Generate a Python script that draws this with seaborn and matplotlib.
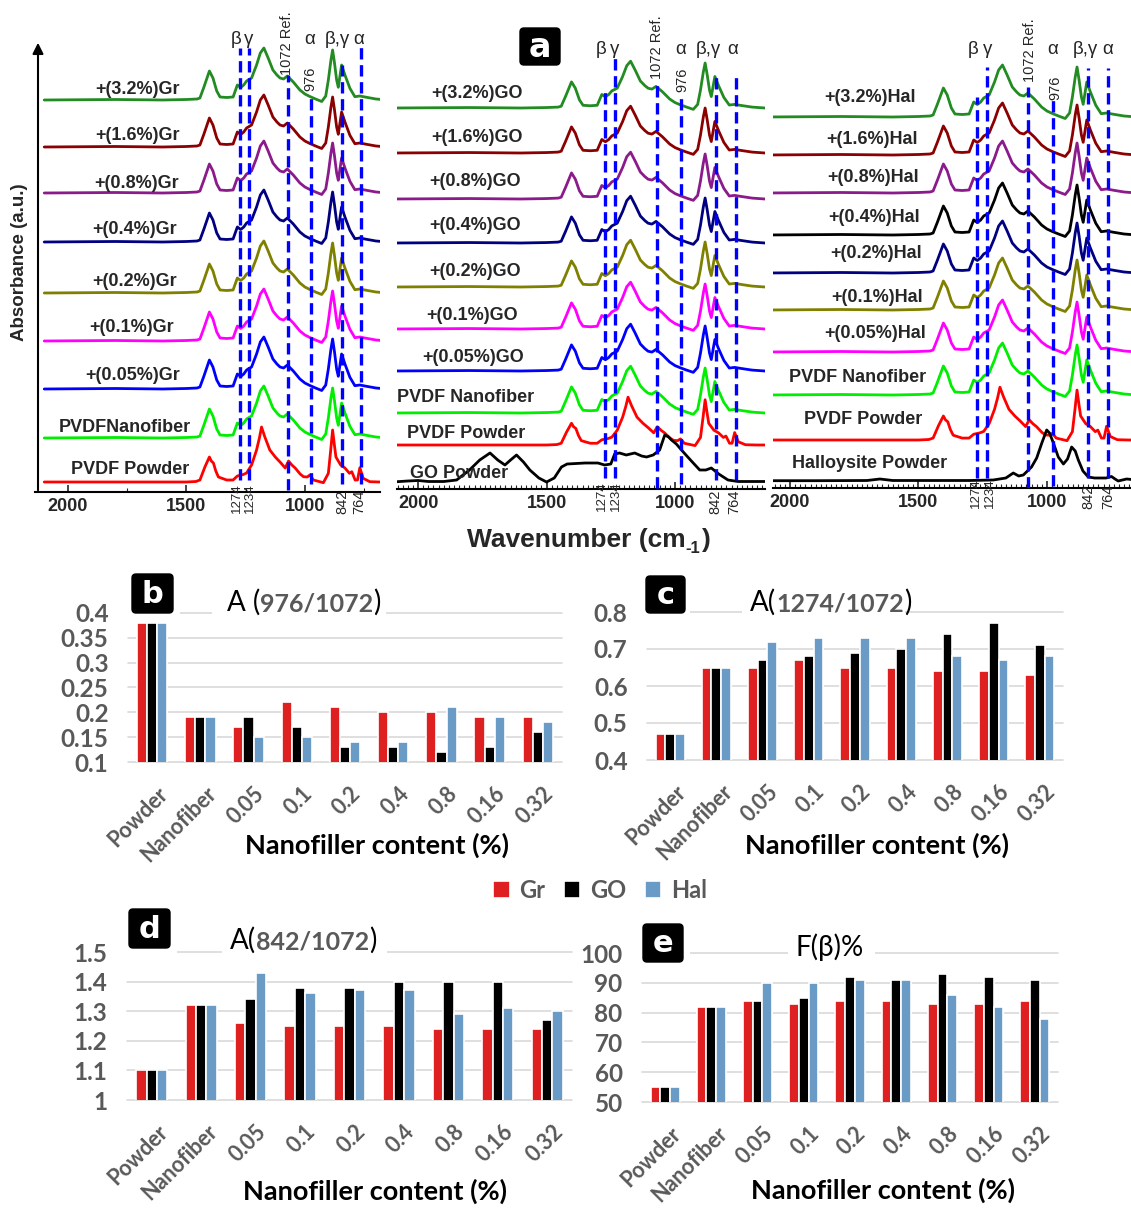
import numpy as np
import pandas as pd
import matplotlib
matplotlib.use("Agg")
import matplotlib.pyplot as plt
import seaborn as sns
from matplotlib.patches import Rectangle, FancyBboxPatch
from matplotlib.ticker import MultipleLocator, FixedLocator, FuncFormatter
from matplotlib.transforms import ScaledTranslation

# ===================== DATA: FTIR spectra (panel a) =====================
# PVDF nanofiber / composite profile (wavenumber cm-1, absorbance a.u.)
FIBER_WN = [2100, 1800, 1600, 1500, 1455, 1443, 1426, 1403, 1388, 1372, 1358, 1330, 1303,
            1285, 1271, 1258, 1246, 1225, 1204, 1188, 1173, 1155, 1135, 1118, 1105, 1090,
            1074, 1049, 1021, 1000, 979, 955, 929, 912, 901, 890, 883, 875, 866, 859, 852,
            845, 831, 810, 789, 768, 740, 700, 650]
FIBER_ABS = [0, 0.5, 0, 0.5, 1, 2, 13, 29, 22, 9, 3, 2.5, 3,
             15, 12.5, 15, 19, 22, 35, 47, 52, 42, 30, 25, 22, 21,
             24, 18, 10, 6, 3.5, 1, -1.5, 4, 20, 40, 50, 37, 20, 12.7, 24,
             35, 25, 11.7, 3.3, 4, 2.7, 1, 0]
# PVDF powder profile
POWDER_WN = [2100, 1500, 1460, 1443, 1422, 1403, 1395, 1386, 1376, 1365, 1330, 1303, 1285,
             1260, 1246, 1225, 1204, 1192, 1183, 1169, 1148, 1125, 1105, 1083, 1069, 1055,
             1041, 1020, 1006, 990, 979, 964, 922, 901, 891, 883, 876, 869, 849, 831, 812,
             802, 788, 778, 768, 754, 726, 683, 650]
POWDER_ABS = [0, 0, 0.5, 2, 15, 25, 21, 19, 11, 5, 2, 2, 6,
              7.5, 9, 17, 32, 44, 55, 45, 32, 25, 20, 14, 21, 17,
              14, 8, 5.3, 5, 7, 2, -0.7, 8.7, 32, 52, 38, 25, 17, 14, 8.7,
              10.3, 2, 2, 14.3, 3.7, 0.3, 0, 0]
# GO powder
GO_WN = [2100, 2040, 2000, 1960, 1900, 1850, 1800, 1760, 1720, 1690, 1662, 1640, 1617, 1590,
         1565, 1530, 1500, 1470, 1442, 1420, 1350, 1300, 1274, 1250, 1235, 1216, 1190, 1157,
         1130, 1111, 1085, 1060, 1040, 1025, 1014, 995, 975, 940, 904, 880, 859, 830, 794,
         755, 700, 650]
GO_ABS = [0, 1, 1.5, 0.5, 0.5, 2, 12, 22, 29, 22, 17, 22, 27, 20,
          12, 4, 0, 4, 15, 18, 19, 19, 17, 18, 28, 29, 27, 29,
          26, 25, 27, 32, 47, 45, 42, 38, 32, 22, 12, 12, 14, 8, 2,
          0.5, 0.5, 0.5]
# Halloysite powder
HAL_WN = [2100, 1900, 1700, 1650, 1600, 1300, 1209, 1160, 1131, 1110, 1092, 1060, 1040, 1020,
          1001, 990, 975, 956, 936, 920, 904, 890, 878, 860, 839, 815, 794, 770, 749, 735,
          723, 690, 650]
HAL_ABS = [0.3, 0.3, 0.5, 2, 0.5, 0.5, 1, 3, 8, 5, 6, 14, 23, 38,
           51, 48, 38, 24, 17, 22, 34, 30, 21, 10, 4, 3, 3, 3, 4.5, 2,
           0, 2, 1]

GR_LABELS = ["+(3.2%)Gr", "+(1.6%)Gr", "+(0.8%)Gr", "+(0.4%)Gr", "+(0.2%)Gr",
             "+(0.1%)Gr", "+(0.05%)Gr", "PVDFNanofiber", "PVDF Powder"]
GO_LABELS = ["+(3.2%)GO", "+(1.6%)GO", "+(0.8%)GO", "+(0.4%)GO", "+(0.2%)GO",
             "+(0.1%)GO", "+(0.05%)GO", "PVDF Nanofiber", "PVDF Powder", "GO Powder"]
HAL_LABELS = ["+(3.2%)Hal", "+(1.6%)Hal", "+(0.8%)Hal", "+(0.4%)Hal", "+(0.2%)Hal",
              "+(0.1%)Hal", "+(0.05%)Hal", "PVDF Nanofiber", "PVDF Powder", "Halloysite Powder"]
GR_KIND = ["fiber"] * 8 + ["powder"]
GO_KIND = ["fiber"] * 8 + ["powder", "go"]
HAL_KIND = ["fiber"] * 8 + ["powder", "hal"]

PEAK_WN = [1274, 1234, 1072, 976, 842, 764]

# ===================== DATA: bar charts (b-e) =====================
CONTENT = ["Powder", "Nanofiber", "0.05", "0.1", "0.2", "0.4", "0.8", "0.16", "0.32"]
FILLERS = ["Gr", "GO", "Hal"]
B_GR = [0.38, 0.19, 0.17, 0.22, 0.21, 0.20, 0.20, 0.19, 0.19]
B_GO = [0.38, 0.19, 0.19, 0.17, 0.13, 0.13, 0.12, 0.13, 0.16]
B_HAL = [0.38, 0.19, 0.15, 0.15, 0.14, 0.14, 0.21, 0.19, 0.18]
C_GR = [0.47, 0.65, 0.65, 0.67, 0.65, 0.65, 0.64, 0.64, 0.63]
C_GO = [0.47, 0.65, 0.67, 0.68, 0.69, 0.70, 0.74, 0.77, 0.71]
C_HAL = [0.47, 0.65, 0.72, 0.73, 0.73, 0.73, 0.68, 0.67, 0.68]
D_GR = [1.10, 1.32, 1.26, 1.25, 1.25, 1.25, 1.24, 1.24, 1.24]
D_GO = [1.10, 1.32, 1.34, 1.38, 1.38, 1.40, 1.40, 1.40, 1.27]
D_HAL = [1.10, 1.32, 1.43, 1.36, 1.37, 1.37, 1.29, 1.31, 1.30]
E_GR = [55, 82, 84, 83, 84, 84, 83, 83, 84]
E_GO = [55, 82, 84, 85, 92, 91, 93, 92, 91]
E_HAL = [55, 82, 90, 90, 91, 91, 86, 82, 78]

# ===================== STYLE / LAYOUT =====================
sns.set_style("white")
plt.rcParams["font.family"] = ["Liberation Sans", "DejaVu Sans"]

W, H = 1131, 1208
fig = plt.figure(figsize=(W / 100, H / 100), dpi=100)
fig.patch.set_facecolor("white")


def px_axes(x0, y0, x1, y1):
    return fig.add_axes([x0 / W, 1 - y1 / H, (x1 - x0) / W, (y1 - y0) / H])


ov = fig.add_axes([0, 0, 1, 1])
ov.set_xlim(0, W)
ov.set_ylim(H, 0)
ov.axis("off")
ov.patch.set_visible(False)
ov.set_zorder(20)

GREEN, DRED, PURP, NAVY, OLIVE = "#228b22", "#8b0000", "#8b1a8b", "#000080", "#808000"
MAG, BLUE, LIME, RED, BLK = "#ff00ff", "#0000ff", "#00ee00", "#ff0000", "#000000"

profiles = {"fiber": (FIBER_WN, FIBER_ABS), "powder": (POWDER_WN, POWDER_ABS),
            "go": (GO_WN, GO_ABS), "hal": (HAL_WN, HAL_ABS)}

TOP = [
    dict(x0=35, x1=380, top=5, bottom=492, xlim=(2139, 683), minor=250,
         labels=GR_LABELS, kinds=GR_KIND,
         colors=[GREEN, DRED, PURP, NAVY, OLIVE, MAG, BLUE, LIME, RED],
         base=[100, 147, 193, 242, 293, 341, 389, 438, 482],
         lab=[(137, 90), (137, 135), (137, 183), (135, 230), (135, 281), (132, 328),
              (133, 376), (125, 427), (130, 470)],
         amp={"fiber": 1.0, "powder": 1.0},
         dash=[(48, 480), (48, 480), (75, 490), (95, 484), (65, 484), (47, 484)],
         ptxt=[("β", 236, 40, 0), ("γ", 249, 40, 0), ("1072 Ref.", 287, 43, 90),
               ("α", 310, 40, 0), ("976", 310, 79, 90), ("β,γ", 337, 40, 0), ("α", 359, 40, 0),
               ("1274", 237, 498, 90), ("1234", 250, 498, 90), ("842", 342, 502, 90),
               ("764", 359, 502, 90)]),
    dict(x0=397, x1=765, top=5, bottom=489, xlim=(2082, 650), minor=20,
         labels=GO_LABELS, kinds=GO_KIND,
         colors=[GREEN, DRED, PURP, NAVY, OLIVE, MAG, BLUE, LIME, RED, BLK],
         base=[108, 153, 199, 243, 287, 329, 371, 413, 445, 482],
         lab=[(477, 93), (477, 138), (475, 182), (475, 226), (475, 271), (472, 315),
              (473, 357), (466, 397), (466, 433), (459, 473)],
         amp={"fiber": 0.9, "powder": 0.87, "go": 1.0},
         dash=[(90, 478), (58, 478), (82, 488), (97, 484), (72, 480), (72, 480)],
         ptxt=[("β", 601, 50, 0), ("γ", 615, 50, 0), ("1072 Ref.", 657, 47, 90),
               ("α", 681, 50, 0), ("976", 682, 80, 90), ("β,γ", 708, 50, 0), ("α", 733, 50, 0),
               ("1274", 602, 496, 90), ("1234", 616, 496, 90), ("842", 715, 502, 90),
               ("764", 734, 502, 90)]),
    dict(x0=773, x1=1131, top=5, bottom=488, xlim=(2066, 673), minor=20,
         labels=HAL_LABELS, kinds=HAL_KIND,
         colors=[GREEN, DRED, PURP, BLK, NAVY, OLIVE, MAG, LIME, RED, BLK],
         base=[117, 155, 193, 235, 273, 310, 352, 395, 440, 481],
         lab=[(870, 97), (872, 139), (873, 177), (874, 217), (876, 254), (877, 297),
              (875, 333), (858, 377), (863, 419), (870, 463)],
         amp={"fiber": 1.0, "powder": 0.96, "hal": 1.0},
         dash=[(97, 478), (67, 478), (87, 488), (100, 486), (68, 478), (68, 478)],
         ptxt=[("β", 973, 50, 0), ("γ", 988, 50, 0), ("1072 Ref.", 1030, 50, 90),
               ("α", 1053, 50, 0), ("976", 1055, 88, 90), ("β,γ", 1085, 50, 0), ("α", 1108, 50, 0),
               ("1274", 976, 493, 90), ("1234", 990, 493, 90), ("842", 1088, 497, 90),
               ("764", 1108, 497, 90)]),
]

for p in TOP:
    ax = px_axes(p["x0"], p["top"], p["x1"], p["bottom"])
    hgt = p["bottom"] - p["top"]
    for label, kind, color, base, (lx, ly) in zip(p["labels"], p["kinds"], p["colors"],
                                                  p["base"], p["lab"]):
        wn, ab = profiles[kind]
        yv = np.asarray(ab, dtype=float) * p["amp"][kind] + (p["bottom"] - base)
        sns.lineplot(x=wn, y=yv, color=color, lw=2.0, ax=ax, estimator=None, sort=False)
        ov.text(lx, ly, label, ha="center", va="center", fontsize=13, fontweight="bold")
    for wn, (ytop, ybot) in zip(PEAK_WN, p["dash"]):
        ax.plot([wn, wn], [p["bottom"] - ybot, p["bottom"] - ytop], color=BLUE, lw=2.4,
                ls=(0, (3.4, 1.7)), zorder=5)
    for s, x, y, rot in p["ptxt"]:
        if rot == 0:
            ov.text(x, y, s, ha="center", va="center", fontsize=13.5,
                    family=["Liberation Sans", "DejaVu Sans"])
        elif s in ("1274", "1234"):
            ov.text(x, y, s, ha="center", va="center", fontsize=9.5, rotation=90)
        else:
            ov.text(x, y, s, ha="center", va="center", fontsize=10.5, rotation=90)
    ax.set_xlim(*p["xlim"])
    ax.set_ylim(0, hgt)
    ax.set_xlabel("")
    ax.set_ylabel("")
    ax.set_yticks([])
    ax.xaxis.set_major_locator(FixedLocator([2000, 1500, 1000]))
    ax.xaxis.set_minor_locator(MultipleLocator(p["minor"]))
    ax.tick_params(axis="x", which="major", bottom=True, direction="in", length=5, width=1.2,
                   pad=4, labelsize=13)
    ax.tick_params(axis="x", which="minor", bottom=True, direction="in", length=3, width=0.8)
    for t in ax.get_xticklabels():
        t.set_fontweight("bold")
    for side in ("left", "top", "right"):
        ax.spines[side].set_visible(False)
    ax.spines["bottom"].set_linewidth(1.5)
    ax.spines["bottom"].set_color("black")
    ax.patch.set_visible(False)

# y arrow and axis labels of panel a
ov.annotate("", xy=(38, 40), xytext=(38, 493),
            arrowprops=dict(arrowstyle="-|>", lw=1.5, color="black", mutation_scale=16))
ov.text(20, 262, "Absorbance (a.u.)", rotation=90, ha="center", va="center",
        fontsize=13.5, fontweight="bold")
t1 = ov.text(467, 547, "Wavenumber (cm", ha="left", va="baseline", fontsize=19,
             fontweight="bold")
t2 = ov.annotate("-1", xy=(1, 0), xycoords=t1, xytext=(0, -3), textcoords="offset points",
                 ha="left", va="bottom", fontsize=12, fontweight="bold")
ov.annotate(")", xy=(1, 0), xycoords=(t2, t1), xytext=(1, 0), textcoords="offset points",
            ha="left", va="bottom", fontsize=19, fontweight="bold")


def letter_box(x0, y0, x1, y1, letter, size=22):
    ov.add_patch(FancyBboxPatch((x0, y0), x1 - x0, y1 - y0,
                                boxstyle="round,pad=0,rounding_size=4",
                                fc="black", ec="black", zorder=3))
    ov.text((x0 + x1) / 2, (y0 + y1) / 2 + 1, letter, ha="center", va="center",
            color="white", fontsize=size, fontweight="bold", zorder=4,
            family=["DejaVu Sans"])


letter_box(520, 28, 560, 65, "a", 24)

# ===================== bar charts =====================
BAR_COLORS = ["#ff0000", "#000000", "#5b9bd5"]
GRAY = "#595959"
LATO = ["Lato", "DejaVu Sans"]

BARS = [
    dict(vals=(B_GR, B_GO, B_HAL), box=(128, 613, 562, 762), ylim=(0.1, 0.4), step=0.05,
         letter=(132, 574, 173, 613, "b"), title=[("A (", 0), ("976/1072", 1), (")", 0)],
         title_xy=(227, 611), cover=(613, [(124, 180), (212, 386)]), xlab=(377, 845)),
    dict(vals=(C_GR, C_GO, C_HAL), box=(647, 612, 1063, 760), ylim=(0.4, 0.8), step=0.1,
         letter=(646, 576, 685, 613, "c"), title=[("A(", 0), ("1274/1072", 1), (")", 0)],
         title_xy=(750, 611), cover=(612, [(643, 690), (742, 905)]), xlab=(877, 845)),
    dict(vals=(D_GR, D_GO, D_HAL), box=(127, 952, 572, 1100), ylim=(1.0, 1.5), step=0.1,
         letter=(129, 909, 170, 948, "d"), title=[("A(", 0), ("842/1072", 1), (")", 0)],
         title_xy=(230, 949), cover=(952, [(123, 177), (222, 387)]), xlab=(375, 1191)),
    dict(vals=(E_GR, E_GO, E_HAL), box=(642, 953, 1058, 1102), ylim=(50, 100), step=10,
         letter=(643, 924, 683, 962, "e"), title=[("F(β)%", 0)],
         title_xy=(796, 956), cover=(953, [(638, 690), (788, 875)]), xlab=(883, 1190)),
]

handles = labels = None
for i, b in enumerate(BARS):
    x0, y0, x1, y1 = b["box"]
    ax = px_axes(x0, y0, x1, y1)
    df = pd.DataFrame({"Content": CONTENT * 3,
                       "Filler": np.repeat(FILLERS, len(CONTENT)),
                       "Value": list(b["vals"][0]) + list(b["vals"][1]) + list(b["vals"][2])})
    sns.barplot(data=df, x="Content", y="Value", hue="Filler", order=CONTENT,
                hue_order=FILLERS, palette=BAR_COLORS, width=0.63, edgecolor="white",
                linewidth=1.2, errorbar=None, ax=ax, legend=(i == 0), zorder=2)
    if i == 0:
        handles, labels = ax.get_legend_handles_labels()
        ax.get_legend().remove()
    lo, hi = b["ylim"]
    ax.set_ylim(lo, hi)
    ax.set_xlim(-0.5, len(CONTENT) - 0.5)
    ticks = np.arange(lo, hi + b["step"] / 2, b["step"])
    ax.set_yticks(ticks)
    ax.yaxis.set_major_formatter(FuncFormatter(lambda v, _: f"{v:g}"))
    for v in ticks:
        ax.axhline(v, color="#d9d9d9", lw=1.2, zorder=0, clip_on=False)
    for s in ax.spines.values():
        s.set_visible(False)
    ax.set_xlabel("")
    ax.set_ylabel("")
    ax.tick_params(axis="both", length=0)
    ax.tick_params(axis="y", pad=14)
    ax.tick_params(axis="x", pad=15)
    for t in ax.get_yticklabels():
        t.set_fontfamily(LATO)
        t.set_fontweight("bold")
        t.set_fontsize(17.5)
        t.set_color(GRAY)
    ax.set_xticks(range(len(CONTENT)))
    ax.set_xticklabels(CONTENT, rotation=45, ha="right", va="top", rotation_mode="anchor",
                       fontfamily=LATO, fontweight="bold", fontsize=15.5, color=GRAY)
    for t in ax.get_xticklabels():
        t.set_transform(t.get_transform() + ScaledTranslation(5 / 100, 0, fig.dpi_scale_trans))
    ax.patch.set_visible(False)

    # white covers where the letter box and title interrupt the top gridline
    gy, spans = b["cover"]
    for a0, a1 in spans:
        ov.add_patch(Rectangle((a0, gy - 3), a1 - a0, 6, fc="white", ec="none", zorder=1))
    lx0, ly0, lx1, ly1, letter = b["letter"]
    letter_box(lx0, ly0, lx1, ly1, letter, 22)

    tx, ty = b["title_xy"]
    prev = None
    for s, kind in b["title"]:
        kw = dict(fontfamily=LATO, zorder=5)
        if kind == 1:
            kw.update(color=GRAY, fontweight="bold", fontsize=18)
        else:
            kw.update(color="black", fontweight="normal", fontsize=20)
        if prev is None:
            prev = ov.text(tx, ty, s, ha="left", va="baseline", **kw)
            first = prev
        else:
            prev = ov.annotate(s, xy=(1, 0), xycoords=(prev, first), xytext=(0, 0),
                               textcoords="offset points", ha="left", va="bottom", **kw)
    ov.text(b["xlab"][0], b["xlab"][1], "Nanofiller content (%)", ha="center", va="center",
            fontfamily=LATO, fontweight="bold", fontsize=19.5, color="black")

fig.legend(handles, labels, loc="center", bbox_to_anchor=(600 / W, 1 - 890 / H), ncol=3,
           frameon=False, handlelength=0.7, handleheight=0.7, handletextpad=0.4,
           columnspacing=0.8, prop=dict(family="Lato", weight="bold", size=17),
           labelcolor=GRAY)

fig.savefig("out.png", dpi=100, facecolor="white")
